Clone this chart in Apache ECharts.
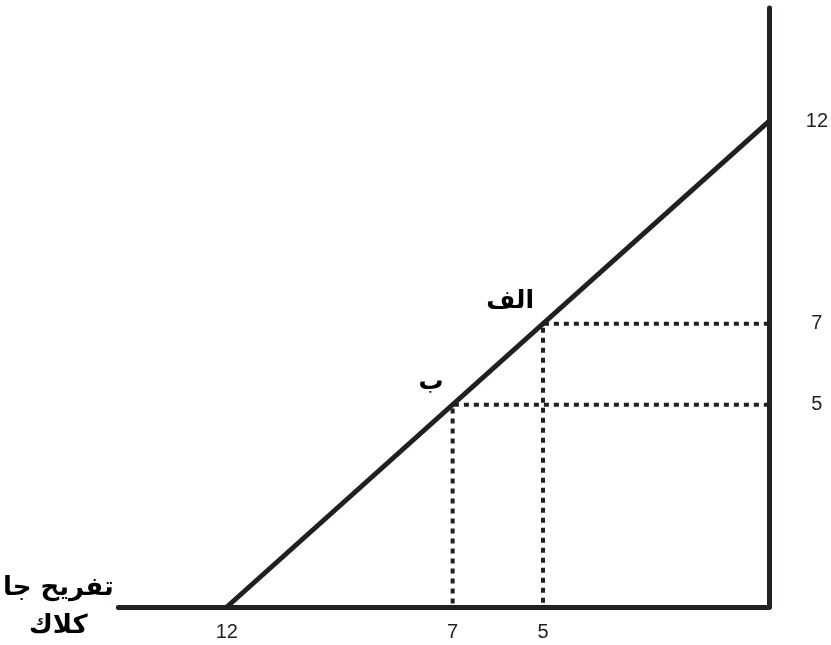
<!DOCTYPE html>
<html>
<head>
<meta charset="UTF-8">
<title>budget line</title>
<script src="https://cdn.jsdelivr.net/npm/echarts@6/dist/echarts.min.js"></script>
<style>body{margin:0;background:#fff}</style>
</head>
<body>
<div id="main" style="width:831px;height:645px;"></div>
<script type="text/javascript">
// data
var xTicks = [12, 7, 5];
var yTicks = [12, 7, 5];
var budgetLine = [[12, 0], [0, 12]];
var pointNames = ['الف', 'ب'];
var pointX = [5, 7];
var pointY = [7, 5];
var xName = 'تفريح جا\nكلاك';

var ink = '#231f20';
var myChart = echarts.init(document.getElementById('main'));

var series = [{
  type: 'line',
  data: budgetLine,
  symbol: 'none',
  lineStyle: { color: ink, width: 5 },
  z: 3
}];
// dotted guides to both axes
pointX.forEach(function (x, i) {
  var y = pointY[i];
  series.push({
    type: 'line',
    data: [[0, y], [x, y], [x, 0]],
    symbol: 'none',
    lineStyle: { color: ink, width: 4, type: [5, 5] },
    z: 2
  });
});
series.push({
  type: 'scatter',
  data: pointX.map(function (x, i) { return { value: [x, pointY[i]], name: pointNames[i] }; }),
  symbolSize: 2,
  itemStyle: { color: 'rgba(0,0,0,0)', opacity: 1 },
  label: {
    show: true,
    formatter: '{b}',
    position: 'left',
    distance: 8,
    offset: [0, -22],
    color: '#000',
    opacity: 1,
    fontFamily: 'DejaVu Sans',
    fontWeight: 'bold',
    fontSize: 25
  },
  z: 5
});

var option = {
  animation: false,
  grid: { left: 118, right: 61, top: 8, bottom: 35 },
  xAxis: {
    type: 'value',
    inverse: true,
    min: 0,
    max: 14.4,
    splitLine: { show: false },
    axisLine: { lineStyle: { color: ink, width: 5 } },
    axisTick: { show: false },
    axisLabel: {
      customValues: xTicks,
      margin: 15,
      color: ink,
      fontFamily: 'Liberation Sans',
      fontSize: 20
    },
    name: xName,
    nameLocation: 'end',
    nameGap: 60,
    nameTextStyle: {
      align: 'center',
      verticalAlign: 'middle',
      color: '#000',
      fontFamily: 'DejaVu Sans',
      fontWeight: 'bold',
      fontSize: 26,
      lineHeight: 38
    }
  },
  yAxis: {
    type: 'value',
    position: 'right',
    min: 0,
    max: 14.8,
    splitLine: { show: false },
    axisLine: { lineStyle: { color: ink, width: 5 } },
    axisTick: { show: false },
    axisLabel: {
      customValues: yTicks,
      margin: 48,
      align: 'center',
      color: ink,
      fontFamily: 'Liberation Sans',
      fontSize: 20
    }
  },
  series: series
};
myChart.setOption(option);
</script>
</body>
</html>
